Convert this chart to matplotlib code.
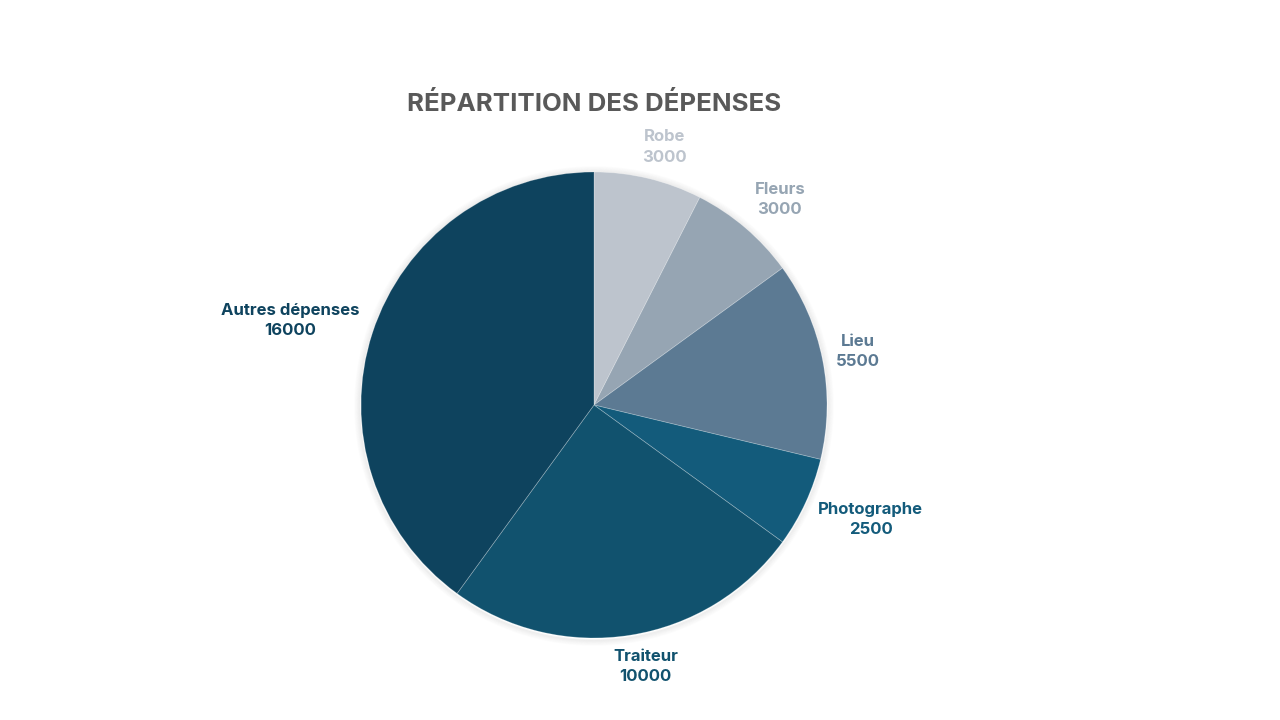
import numpy as np
from matplotlib import pyplot as plt
from matplotlib.patches import Circle

plt.rcParams['font.family'] = ['Inter', 'DejaVu Sans']

categories = ['Robe', 'Fleurs', 'Lieu', 'Photographe', 'Traiteur', 'Autres dépenses']
values = [3000, 3000, 5500, 2500, 10000, 16000]
colors = ['#BDC4CD', '#96A5B3', '#5C7A93', '#135B7B', '#11526E', '#0E435E']
title = 'RÉPARTITION DES DÉPENSES'


def main():
    fig = plt.figure(figsize=(12.8, 7.2), dpi=100)
    ax = fig.add_axes([0, 0, 1, 1])

    cx, cy, r = 594, 315, 233

    # soft shadow round the pie
    for i in range(6):
        ax.add_patch(Circle((cx, cy - 1), r + 1 + i, facecolor='none',
                            edgecolor=(0, 0, 0, 0.045 - i * 0.007), linewidth=1.2, zorder=0))

    wedges, _ = ax.pie(values, colors=colors, startangle=90, counterclock=False,
                       center=(cx, cy), radius=r,
                       wedgeprops=dict(edgecolor=(1, 1, 1, 0.25), linewidth=0.6))

    ax.set_xlim(0, 1280)
    ax.set_ylim(0, 720)
    ax.set_aspect('equal')
    ax.axis('off')

    renderer = fig.canvas.get_renderer()
    for w, name, val, col in zip(wedges, categories, values, colors):
        th = np.deg2rad((w.theta1 + w.theta2) / 2)
        c, s = np.cos(th), np.sin(th)
        t = ax.text(0, 0, f'{name}\n{val}', ha='center', va='center', color=col,
                    fontsize=12, fontweight='bold', linespacing=1.45,
                    multialignment='center')
        bb = t.get_window_extent(renderer)
        # keep the label just outside the rim, sliding its box with the angle
        x = cx + 1.06 * r * c + bb.width / 2 * np.clip(c * 2.5, -1, 1)
        y = cy + 1.06 * r * s + bb.height / 2 * np.clip(s * 1.5, -1, 1)
        t.set_position((x, y))

    fig.text(594 / 1280, 1 - 104 / 720, title, ha='center', va='center',
             fontsize=18.6, fontweight='bold', color='#595959')

    plt.savefig('out.png', dpi=100)


if __name__ == '__main__':
    main()
